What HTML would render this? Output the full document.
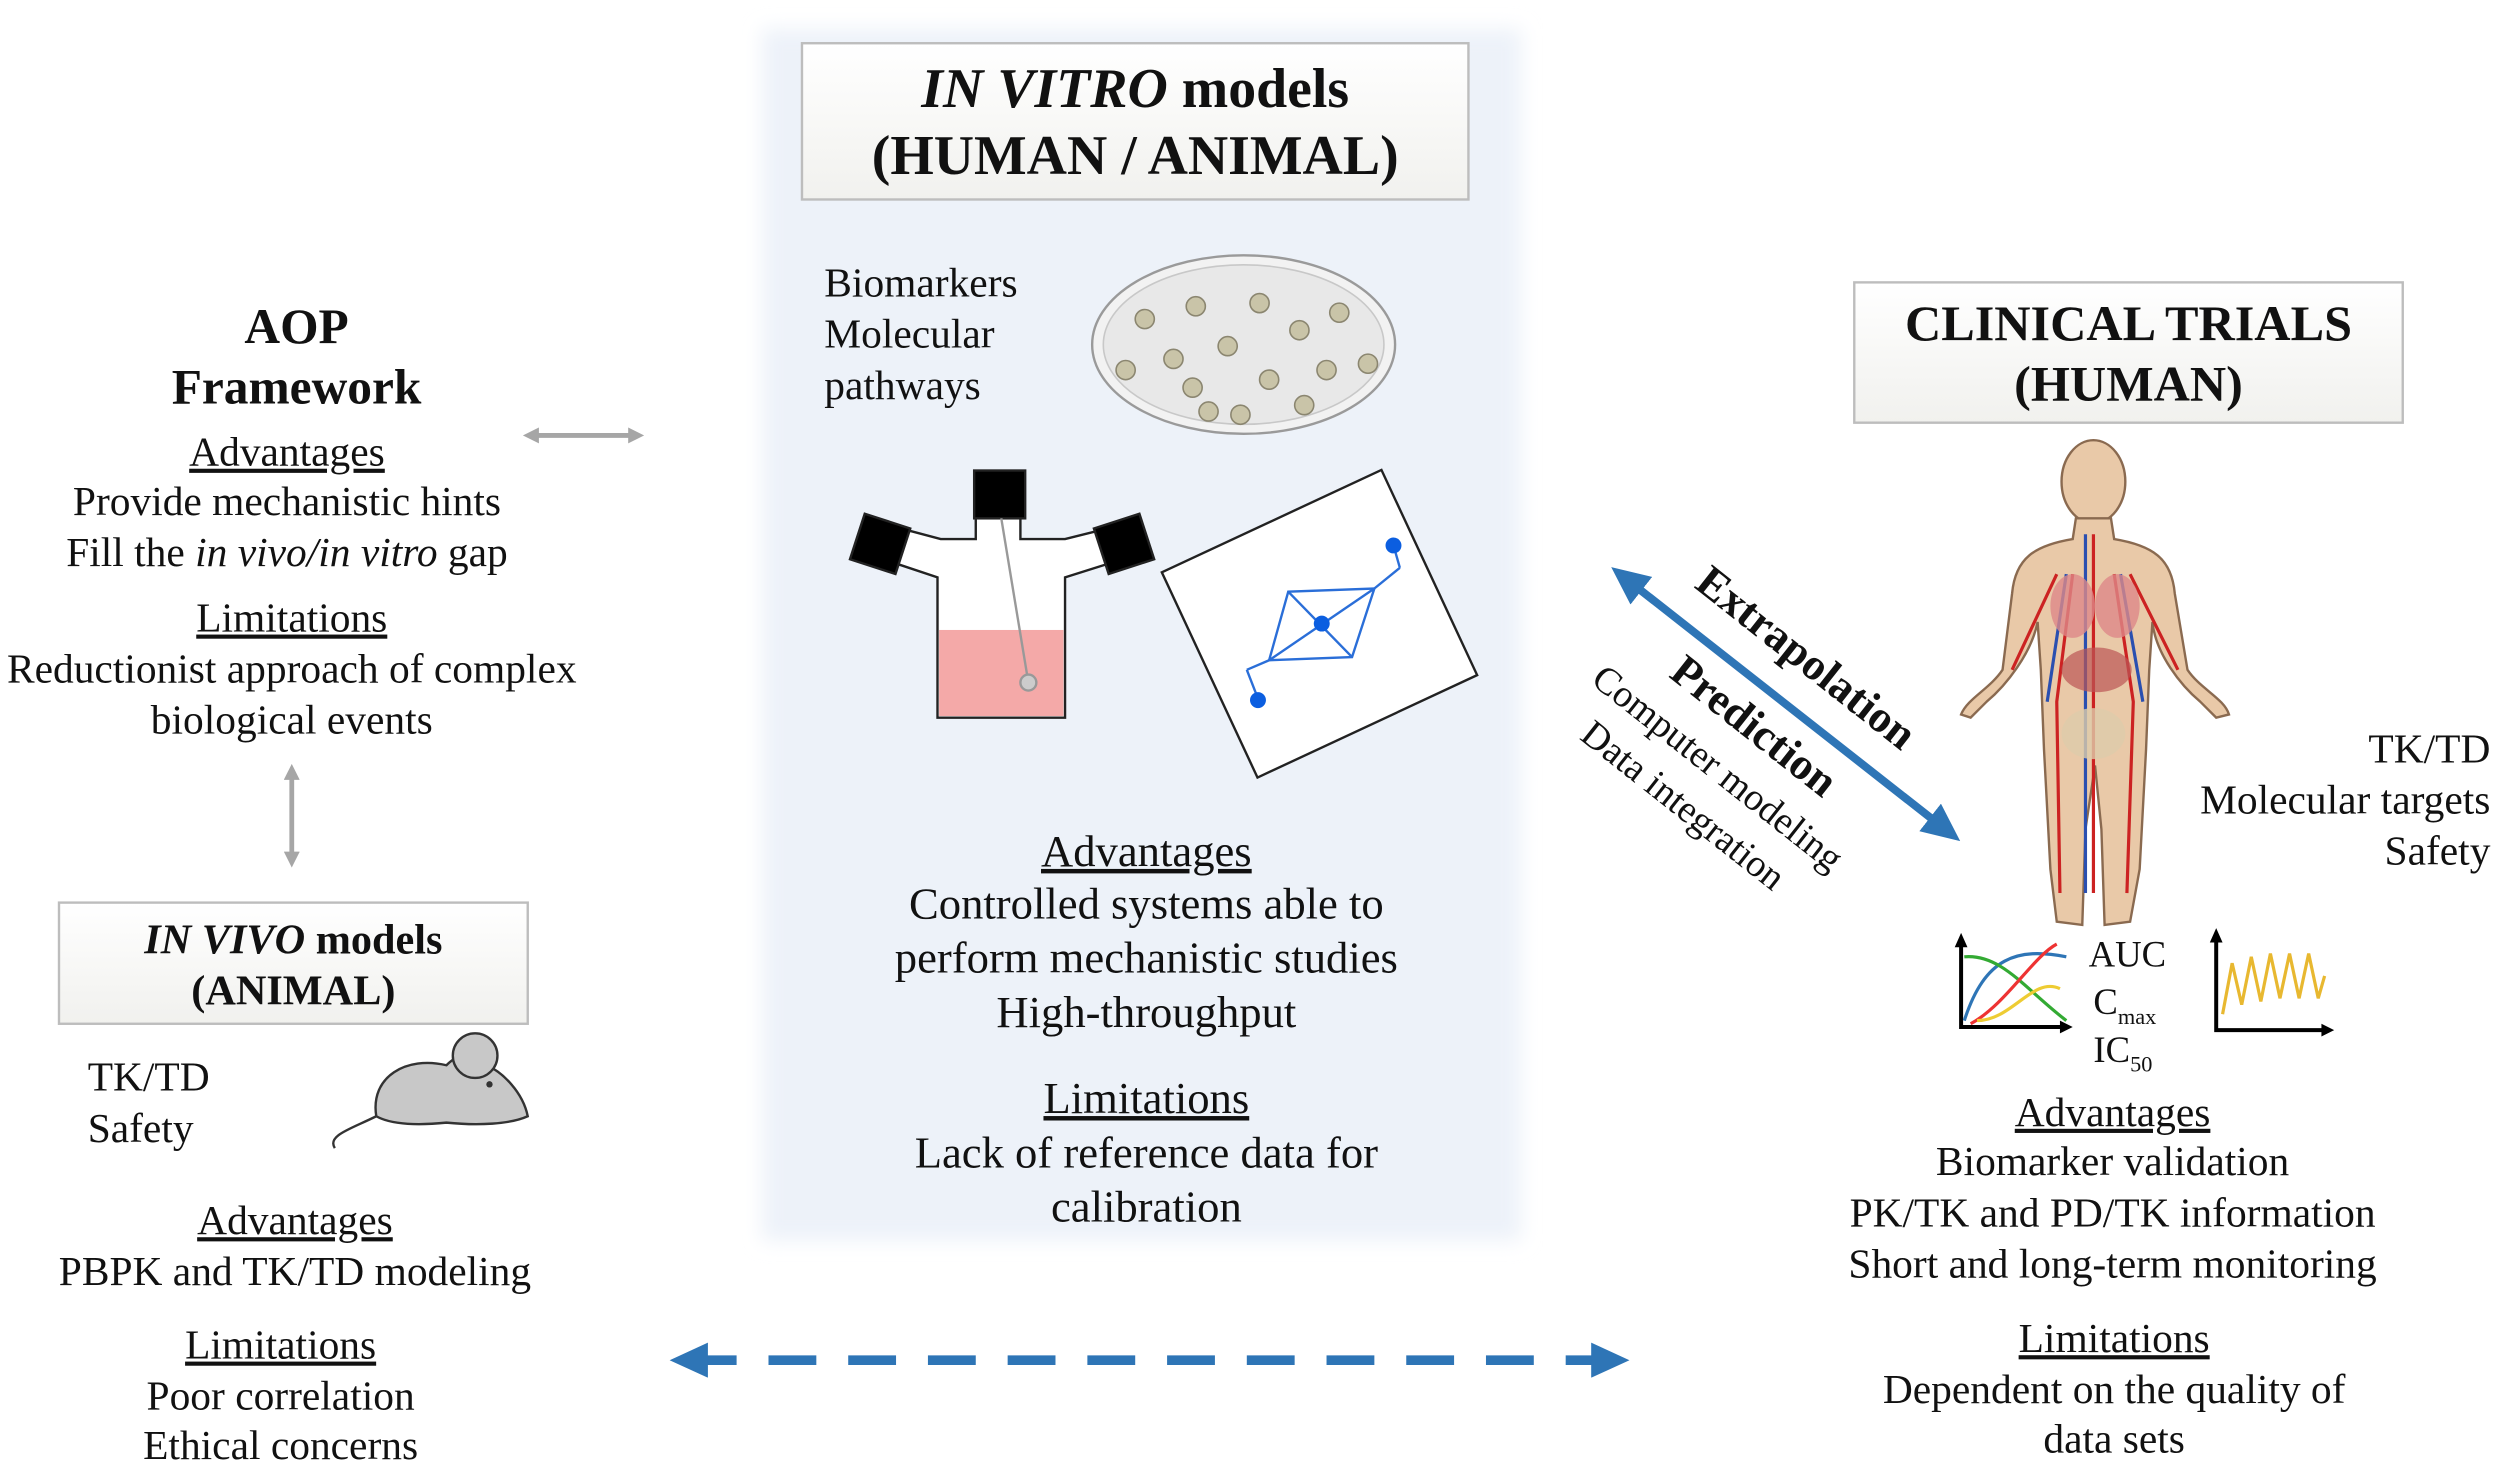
<!DOCTYPE html>
<html><head><meta charset="utf-8"><style>
html,body{margin:0;padding:0;background:#fff;}
svg{display:block;}
text{font-family:"Liberation Serif",serif;fill:#111;}
</style></head><body>
<svg width="2500" height="1464" viewBox="0 0 1568 918" xmlns="http://www.w3.org/2000/svg">
<defs>
<linearGradient id="box" x1="0" y1="0" x2="0" y2="1"><stop offset="0" stop-color="#ffffff"/><stop offset="1" stop-color="#f1f1ee"/></linearGradient>
<filter id="blur"><feGaussianBlur stdDeviation="6"/></filter>
<marker id="ga" markerWidth="10" markerHeight="10" refX="5" refY="5" orient="auto-start-reverse" markerUnits="userSpaceOnUse"><path d="M0,0 L10,5 L0,10 z" fill="#a6a6a6"/></marker>
<marker id="ba" markerWidth="24" markerHeight="22" refX="12" refY="11" orient="auto-start-reverse" markerUnits="userSpaceOnUse"><path d="M0,0 L24,11 L0,22 z" fill="#2e75b6"/></marker>
</defs>
<rect x="478" y="18" width="476" height="760" fill="#edf2f9" filter="url(#blur)"/>
<rect x="503" y="27" width="418" height="98" fill="url(#box)" stroke="#bdbdbd" stroke-width="1.5"/>
<text x="712" y="67" font-size="35" font-weight="bold" text-anchor="middle"><tspan font-style="italic">IN VITRO</tspan> models</text>
<text x="712" y="109" font-size="35" font-weight="bold" text-anchor="middle">(HUMAN / ANIMAL)</text>
<text x="517" y="186" font-size="26">Biomarkers</text>
<text x="517" y="218" font-size="26">Molecular</text>
<text x="517" y="250" font-size="26">pathways</text>
<ellipse cx="780" cy="216" rx="95" ry="56" fill="#f2f2f2" stroke="#9a9a9a" stroke-width="1.5"/>
<ellipse cx="780" cy="216" rx="88" ry="50" fill="#e8e8e8" stroke="#c8c8c8"/>
<g fill="#c9c4a8" stroke="#8b8670" stroke-width="1">
<circle cx="718" cy="200" r="6"/><circle cx="750" cy="192" r="6"/><circle cx="790" cy="190" r="6"/><circle cx="840" cy="196" r="6"/><circle cx="706" cy="232" r="6"/><circle cx="736" cy="225" r="6"/><circle cx="770" cy="217" r="6"/><circle cx="815" cy="207" r="6"/><circle cx="858" cy="228" r="6"/><circle cx="832" cy="232" r="6"/><circle cx="796" cy="238" r="6"/><circle cx="758" cy="258" r="6"/><circle cx="778" cy="260" r="6"/><circle cx="818" cy="254" r="6"/><circle cx="748" cy="243" r="6"/>
</g>
<g stroke="#222" stroke-width="1.5">
<path d="M612,325 L640,325 L640,338 L668,338 L700,330 L706,350 L668,362 L668,450 L588,450 L588,362 L552,350 L560,330 L590,338 L612,338 z" fill="#fff"/>
<rect x="589" y="395" width="78" height="54" fill="#f4a9a8" stroke="none"/>
<rect x="611" y="295" width="32" height="30" fill="#000"/>
<rect x="537" y="326" width="30" height="30" fill="#000" transform="rotate(18 552 341)"/>
<rect x="690" y="326" width="30" height="30" fill="#000" transform="rotate(-18 705 341)"/>
<line x1="628" y1="325" x2="645" y2="428" stroke="#999"/>
<circle cx="645" cy="428" r="5" fill="#ccc" stroke="#999"/>
</g>
<rect x="752" y="320" width="152" height="142" fill="#fff" stroke="#222" stroke-width="1.5" transform="rotate(-25 828 392)"/>
<g stroke="#2a6ed8" stroke-width="1.5" fill="none">
<path d="M796,414 L808,371 L862,369 L848,412 z"/>
<line x1="808" y1="371" x2="848" y2="412"/><line x1="862" y1="369" x2="796" y2="414"/>
<line x1="796" y1="414" x2="782" y2="420"/><line x1="782" y1="420" x2="789" y2="438"/>
<line x1="862" y1="369" x2="878" y2="356"/><line x1="878" y1="356" x2="874" y2="342"/>
</g>
<circle cx="829" cy="391" r="5" fill="#0b5ee0"/><circle cx="789" cy="439" r="5" fill="#0b5ee0"/><circle cx="874" cy="342" r="5" fill="#0b5ee0"/>
<g font-size="28" text-anchor="middle">
<text x="719" y="543" text-decoration="underline">Advantages</text>
<text x="719" y="576">Controlled systems able to</text>
<text x="719" y="610">perform mechanistic studies</text>
<text x="719" y="644">High-throughput</text>
<text x="719" y="698" text-decoration="underline">Limitations</text>
<text x="719" y="732">Lack of reference data for</text>
<text x="719" y="766">calibration</text>
</g>
<text x="186" y="215" font-size="31" font-weight="bold" text-anchor="middle">AOP</text>
<text x="186" y="253" font-size="31" font-weight="bold" text-anchor="middle">Framework</text>
<g font-size="26" text-anchor="middle">
<text x="180" y="292" text-decoration="underline">Advantages</text>
<text x="180" y="323">Provide mechanistic hints</text>
<text x="180" y="355">Fill the <tspan font-style="italic">in vivo/in vitro</tspan> gap</text>
<text x="183" y="396" text-decoration="underline">Limitations</text>
<text x="183" y="428">Reductionist approach of complex</text>
<text x="183" y="460">biological events</text>
</g>
<line x1="333" y1="273" x2="399" y2="273" stroke="#a6a6a6" stroke-width="3" marker-start="url(#ga)" marker-end="url(#ga)"/>
<line x1="183" y1="484" x2="183" y2="539" stroke="#a6a6a6" stroke-width="3" marker-start="url(#ga)" marker-end="url(#ga)"/>
<rect x="37" y="566" width="294" height="76" fill="url(#box)" stroke="#bdbdbd" stroke-width="1.5"/>
<text x="184" y="598" font-size="26.5" font-weight="bold" text-anchor="middle"><tspan font-style="italic">IN VIVO</tspan> models</text>
<text x="184" y="630" font-size="26.5" font-weight="bold" text-anchor="middle">(ANIMAL)</text>
<text x="55" y="684" font-size="26">TK/TD</text>
<text x="55" y="716" font-size="26">Safety</text>
<path d="M236,700 C232,675 255,662 280,668 C290,658 300,660 305,668 C315,672 328,685 331,700 C320,705 300,706 280,704 C260,706 245,705 236,700 z" fill="#c8c8c8" stroke="#333" stroke-width="1.5"/>
<circle cx="298" cy="662" r="14" fill="#c8c8c8" stroke="#333" stroke-width="1.5"/>
<circle cx="307" cy="680" r="2" fill="#333"/>
<path d="M236,700 C220,708 205,712 210,720" fill="none" stroke="#333" stroke-width="1.5"/>
<g font-size="26" text-anchor="middle">
<text x="185" y="774" text-decoration="underline">Advantages</text>
<text x="185" y="806">PBPK and TK/TD modeling</text>
<text x="176" y="852" text-decoration="underline">Limitations</text>
<text x="176" y="884">Poor correlation</text>
<text x="176" y="915">Ethical concerns</text>
</g>
<line x1="432" y1="853" x2="1010" y2="853" stroke="#2e75b6" stroke-width="6" stroke-dasharray="30,20" marker-start="url(#ba)" marker-end="url(#ba)"/>
<rect x="1163" y="177" width="344" height="88" fill="url(#box)" stroke="#bdbdbd" stroke-width="1.5"/>
<text x="1335" y="213" font-size="31.5" font-weight="bold" text-anchor="middle">CLINICAL TRIALS</text>
<text x="1335" y="251" font-size="31.5" font-weight="bold" text-anchor="middle">(HUMAN)</text>
<line x1="1020" y1="363" x2="1220" y2="520" stroke="#2e75b6" stroke-width="5" marker-start="url(#ba)" marker-end="url(#ba)"/>
<g transform="translate(1062,368) rotate(38.3)"><text font-size="28" font-weight="bold">Extrapolation</text></g>
<g transform="translate(1046,424) rotate(38.3)"><text font-size="28" font-weight="bold">Prediction</text></g>
<g transform="translate(997,428) rotate(38.3)"><text font-size="24">Computer modeling</text></g>
<g transform="translate(990,463) rotate(38.3)"><text font-size="24">Data integration</text></g>
<g stroke="#8a6a50" stroke-width="1.5" fill="#e9c9a8">
<ellipse cx="1313" cy="302" rx="20" ry="26"/>
<path d="M1302,325 L1324,325 L1326,338 C1350,342 1362,350 1364,372 L1372,420 C1380,432 1395,438 1398,448 L1390,450 L1380,440 C1368,430 1352,410 1350,390 L1348,420 L1346,470 L1342,545 L1336,578 L1320,580 L1318,520 L1314,480 L1308,520 L1306,580 L1290,578 L1286,545 L1282,470 L1280,420 L1278,390 C1274,410 1258,430 1246,440 L1236,450 L1230,448 C1234,438 1248,432 1256,420 L1262,372 C1264,350 1276,342 1300,338 z"/>
</g>
<g fill="none" stroke-width="2">
<path d="M1313,335 L1313,560 M1300,360 L1290,440 L1292,560 M1326,360 L1338,440 L1334,560 M1290,360 L1262,420 M1336,360 L1366,420" stroke="#c22"/>
<path d="M1308,335 L1308,560 M1296,360 L1284,440 M1330,360 L1344,440" stroke="#2a4fb0"/>
</g>
<ellipse cx="1300" cy="380" rx="14" ry="20" fill="#d88" opacity="0.8"/>
<ellipse cx="1328" cy="380" rx="14" ry="20" fill="#d88" opacity="0.8"/>
<ellipse cx="1315" cy="420" rx="22" ry="14" fill="#b55" opacity="0.7"/>
<ellipse cx="1313" cy="460" rx="20" ry="16" fill="#dca" opacity="0.8"/>
<g font-size="26" text-anchor="end">
<text x="1562" y="478">TK/TD</text>
<text x="1562" y="510">Molecular targets</text>
<text x="1562" y="542">Safety</text>
</g>
<g stroke="#000" stroke-width="2.5" fill="none">
<path d="M1230,590 L1230,644 L1296,644"/>
<path d="M1390,587 L1390,646 L1460,646"/>
</g>
<path d="M1226,594 L1230,585 L1234,594 M1292,640 L1300,644 L1292,648 M1386,591 L1390,582 L1394,591 M1456,642 L1464,646 L1456,650" fill="#000"/>
<g fill="none" stroke-width="2">
<path d="M1232,640 C1245,600 1265,594 1296,600" stroke="#2e75b6"/>
<path d="M1232,600 C1255,598 1270,620 1296,640" stroke="#3a3"/>
<path d="M1236,642 C1258,630 1275,600 1290,592" stroke="#e33"/>
<path d="M1240,640 C1262,640 1275,612 1292,620" stroke="#ec3"/>
<path d="M1394,636 L1400,604 L1406,630 L1412,600 L1418,628 L1424,598 L1430,626 L1436,598 L1442,626 L1448,598 L1454,626 L1458,612" stroke="#e8b830"/>
</g>
<text x="1310" y="606" font-size="23">AUC</text>
<text x="1313" y="636" font-size="23">C<tspan font-size="14" dy="6">max</tspan></text>
<text x="1313" y="666" font-size="23">IC<tspan font-size="14" dy="6">50</tspan></text>
<g font-size="26" text-anchor="middle">
<text x="1325" y="706" text-decoration="underline">Advantages</text>
<text x="1325" y="737">Biomarker validation</text>
<text x="1325" y="769">PK/TK and PD/TK information</text>
<text x="1325" y="801">Short and long-term monitoring</text>
<text x="1326" y="848" text-decoration="underline">Limitations</text>
<text x="1326" y="880">Dependent on the quality of</text>
<text x="1326" y="911">data sets</text>
</g>
</svg>
</body></html>
